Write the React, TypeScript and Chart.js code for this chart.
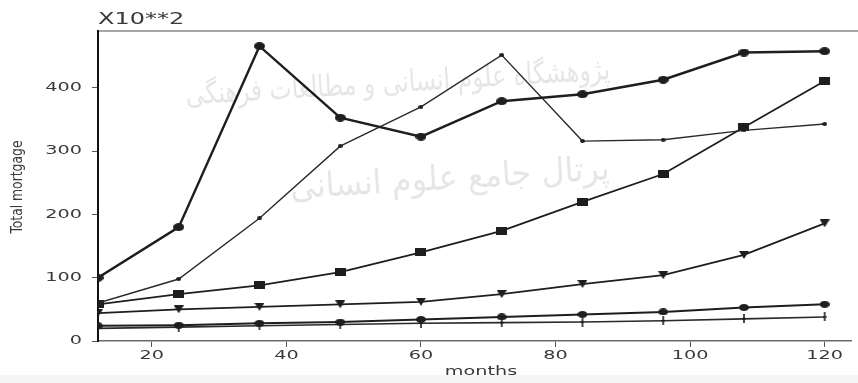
import React, { useEffect, useRef } from "react";
import { Chart, registerables } from "chart.js";

Chart.register(...registerables);

// Loan term in months
const months = [12, 24, 36, 48, 60, 72, 84, 96, 108, 120];

// Total mortgage (x10^2) for each scenario
const seriesPeak = [100, 180, 466, 353, 323, 379, 390, 413, 456, 458];
const seriesDots = [60, 98, 194, 308, 370, 452, 316, 318, 333, 343];
const seriesSquares = [58, 74, 88, 109, 140, 174, 220, 264, 338, 411];
const seriesTriangles = [44, 50, 54, 58, 62, 74, 90, 104, 136, 186];
const seriesCircles = [24, 25, 28, 30, 34, 38, 42, 46, 53, 58];
const seriesTicks = [20, 22, 24, 26, 28, 29, 30, 32, 35, 38];

const xTicks = [20, 40, 60, 80, 100, 120];
const yTicks = [0, 100, 200, 300, 400];

const scaleLabel = "X10**2";
const xTitle = "months";
const yTitle = "Total mortgage";
const watermarkTop = "پژوهشگاه علوم انسانی و مطالعات فرهنگی";
const watermarkBottom = "پرتال جامع علوم انسانی";

// text is drawn wide, like the rest of the figure
const STRETCH = 1.6;
const INK = "#1e1e1e";

const pts = (vals: number[]) => months.map((m, i) => ({ x: m, y: vals[i] }));

function marker(w: number, h: number, paint: (c: CanvasRenderingContext2D) => void) {
  const c = document.createElement("canvas");
  c.width = w;
  c.height = h;
  const g = c.getContext("2d")!;
  g.fillStyle = INK;
  g.strokeStyle = INK;
  paint(g);
  return c;
}

const ellipse = (w: number, h: number) =>
  marker(w, h, (g) => {
    g.beginPath();
    g.ellipse(w / 2, h / 2, w / 2, h / 2, 0, 0, Math.PI * 2);
    g.fill();
  });

const box = (w: number, h: number) => marker(w, h, (g) => g.fillRect(0, 0, w, h));

const triangleDown = (w: number, h: number) =>
  marker(w, h, (g) => {
    g.beginPath();
    g.moveTo(0, 0);
    g.lineTo(w, 0);
    g.lineTo(w / 2, h);
    g.closePath();
    g.fill();
  });

const tickMark = (w: number, h: number) =>
  marker(w, h, (g) => {
    g.fillRect(w / 2 - 0.8, 0, 1.6, h);
    g.fillRect(0, h / 2 - 0.6, w, 1.2);
  });

function wideText(
  ctx: CanvasRenderingContext2D,
  text: string,
  x: number,
  y: number,
  align: "left" | "center" | "right"
) {
  ctx.save();
  ctx.translate(x, y);
  ctx.scale(STRETCH, 1);
  ctx.textAlign = align;
  ctx.fillText(text, 0, 0);
  ctx.restore();
}

function fittedText(
  ctx: CanvasRenderingContext2D,
  text: string,
  cx: number,
  cy: number,
  width: number,
  angle: number,
  thickness = 1
) {
  ctx.save();
  ctx.translate(cx, cy);
  ctx.rotate(angle);
  const m = ctx.measureText(text).width || 1;
  ctx.scale(width / m, thickness);
  ctx.textAlign = "center";
  ctx.textBaseline = "middle";
  ctx.fillText(text, 0, 0);
  ctx.restore();
}

const decorations = {
  id: "decorations",
  beforeDraw(chart: any) {
    const { ctx, width, height, chartArea } = chart;
    ctx.save();
    ctx.fillStyle = "#ffffff";
    ctx.fillRect(0, 0, width, height);
    ctx.fillStyle = "#f5f5f5";
    ctx.fillRect(0, 375, width, height - 375);
    // faint watermark behind the plot
    ctx.fillStyle = "rgba(190,190,190,0.38)";
    ctx.font = "30px 'DejaVu Sans'";
    fittedText(ctx, watermarkTop, 398, 84, 425, -0.06);
    ctx.font = "34px 'DejaVu Sans'";
    fittedText(ctx, watermarkBottom, 450, 180, 320, -0.06);
    // top frame line
    ctx.strokeStyle = "#8a8a8a";
    ctx.lineWidth = 1.5;
    ctx.beginPath();
    ctx.moveTo(chartArea.left, chartArea.top);
    ctx.lineTo(width, chartArea.top);
    ctx.stroke();
    ctx.restore();
  },
  afterDraw(chart: any) {
    const { ctx, chartArea, scales } = chart;
    ctx.save();
    ctx.fillStyle = "#3a3a3a";
    ctx.textBaseline = "middle";
    ctx.font = "12px 'DejaVu Sans'";
    yTicks.forEach((v) => wideText(ctx, String(v), 82, scales.y.getPixelForValue(v), "right"));
    xTicks.forEach((v) => wideText(ctx, String(v), scales.x.getPixelForValue(v), 356, "center"));
    wideText(ctx, xTitle, 481, 372, "center");
    ctx.font = "15px 'DejaVu Sans'";
    ctx.textBaseline = "alphabetic";
    wideText(ctx, scaleLabel, chartArea.left, 24, "left");
    ctx.font = "11px 'Liberation Sans Narrow', 'DejaVu Sans Condensed', sans-serif";
    fittedText(ctx, yTitle, 18, 187, 93, -Math.PI / 2, 1.5);
    ctx.restore();
  },
};

export default function App() {
  const canvasRef = useRef<HTMLCanvasElement | null>(null);

  useEffect(() => {
    document.body.style.margin = "0";
    const canvas = canvasRef.current;
    if (!canvas) return;
    const chart = new Chart(canvas, {
      type: "line",
      data: {
        datasets: [
          {
            data: pts(seriesPeak),
            borderColor: INK,
            borderWidth: 2.4,
            pointStyle: ellipse(11, 8),
          },
          {
            data: pts(seriesDots),
            borderColor: "#2a2a2a",
            borderWidth: 1.4,
            pointStyle: ellipse(5, 4),
          },
          {
            data: pts(seriesSquares),
            borderColor: INK,
            borderWidth: 1.8,
            pointStyle: box(11, 8),
          },
          {
            data: pts(seriesTriangles),
            borderColor: INK,
            borderWidth: 1.8,
            pointStyle: triangleDown(10, 8),
          },
          {
            data: pts(seriesCircles),
            borderColor: INK,
            borderWidth: 2,
            pointStyle: ellipse(10, 7),
          },
          {
            data: pts(seriesTicks),
            borderColor: "#2a2a2a",
            borderWidth: 1.6,
            pointStyle: tickMark(4, 9),
          },
        ],
      },
      options: {
        responsive: false,
        animation: false,
        events: [],
        layout: { padding: { left: 0, right: 4, top: 31, bottom: 0 } },
        plugins: { legend: { display: false }, tooltip: { enabled: false } },
        elements: { line: { tension: 0 } },
        scales: {
          x: {
            type: "linear",
            min: 12,
            max: 124,
            afterBuildTicks: (s: any) => {
              s.ticks = xTicks.map((v) => ({ value: v }));
            },
            afterFit: (s: any) => {
              s.height = 42;
            },
            grid: {
              drawOnChartArea: false,
              drawTicks: true,
              tickLength: 6,
              color: "#555555",
            },
            border: { color: "#6a6a6a", width: 1.5 },
            ticks: { display: false },
          },
          y: {
            type: "linear",
            min: 0,
            max: 490,
            afterBuildTicks: (s: any) => {
              s.ticks = yTicks.map((v) => ({ value: v }));
            },
            afterFit: (s: any) => {
              s.width = 98;
            },
            grid: {
              drawOnChartArea: false,
              drawTicks: true,
              tickLength: 6,
              color: "#555555",
            },
            border: { color: "#111111", width: 2 },
            ticks: { display: false },
          },
        },
      },
      plugins: [decorations],
    });
    return () => chart.destroy();
  }, []);

  return (
    <div style={{ position: "absolute", left: 0, top: 0, width: 858, height: 383 }}>
      <canvas ref={canvasRef} width={858} height={383} style={{ width: 858, height: 383 }} />
    </div>
  );
}
